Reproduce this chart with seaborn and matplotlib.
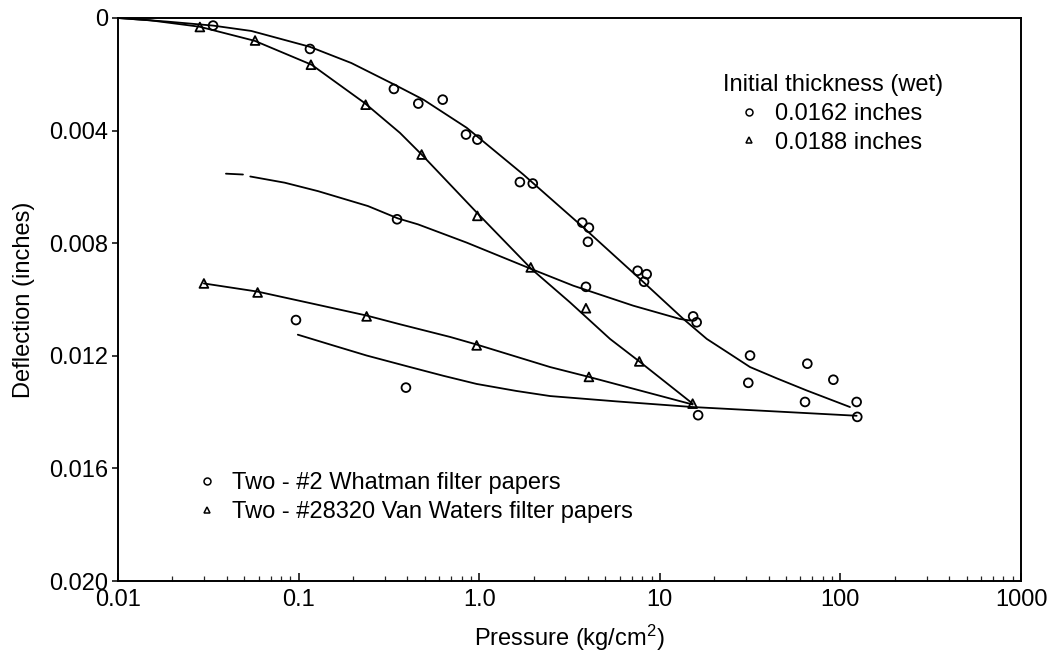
import matplotlib
matplotlib.use("Agg")
import matplotlib.pyplot as plt
from matplotlib.lines import Line2D
from matplotlib.ticker import FixedLocator, LogLocator, NullFormatter
import pandas as pd
import seaborn as sns

# Measured points (pressure kg/cm^2, deflection inches)
circ_a_p = [0.0336, 0.1156, 0.337, 0.460, 0.628, 0.845, 0.977, 1.68, 1.98,
            3.72, 4.05, 4.0, 7.54, 8.46, 8.18, 15.3, 16.0, 31.6, 30.9,
            65.6, 91.4, 63.7, 123]
circ_a_d = [0.00027, 0.0011, 0.00252, 0.00304, 0.0029, 0.00414, 0.00432,
            0.00583, 0.00588, 0.00727, 0.00745, 0.00795, 0.00898, 0.0091,
            0.00937, 0.0106, 0.01081, 0.01199, 0.01296, 0.01228, 0.01285,
            0.01364, 0.01364]

tri_b_p = [0.0284, 0.0574, 0.117, 0.235, 0.480, 0.977, 1.93, 3.90, 7.70, 15.2]
tri_b_d = [0.00032, 0.0008, 0.00166, 0.00308, 0.00485, 0.00703, 0.00886,
           0.01031, 0.0122, 0.0137]

circ_c_p = [0.351, 3.90]
circ_c_d = [0.00715, 0.00955]

tri_d_p = [0.0299, 0.0593, 0.238, 0.968, 4.05]
tri_d_d = [0.00943, 0.00975, 0.0106, 0.01163, 0.01275]

circ_e_p = [0.0967, 0.393, 16.3, 124]
circ_e_d = [0.01073, 0.01313, 0.01411, 0.01417]

# Fitted curves
curve_a_p = [0.01, 0.0189, 0.0336, 0.0547, 0.115, 0.196, 0.340, 0.491, 0.853,
             1.755, 3.61, 7.77, 13.5, 18.2, 24.0, 31.6, 44.4, 65, 113]
curve_a_d = [0.0, 0.00013, 0.00027, 0.00046, 0.00102, 0.0016, 0.00237, 0.0029,
             0.0039, 0.00556, 0.00733, 0.00927, 0.01069, 0.0114, 0.0119,
             0.0124, 0.0128, 0.01323, 0.01382]

curve_b_p = [0.01, 0.015, 0.0283, 0.0571, 0.118, 0.232, 0.364, 0.48, 0.989,
             1.95, 3.18, 5.30, 7.7, 15.2]
curve_b_d = [0.0, 0.00008, 0.00031, 0.00081, 0.00166, 0.00302, 0.00408,
             0.00485, 0.00697, 0.00892, 0.0101, 0.0114, 0.0122, 0.0137]

# extrapolated (dashed) start of the middle curve, then the solid part
curve_c_ext_p = [0.0396, 0.0492]
curve_c_ext_d = [0.00553, 0.00556]
curve_c_p = [0.054, 0.0837, 0.128, 0.242, 0.355, 0.458, 0.853, 1.95, 3.32,
             7.13, 12.9, 14.8]
curve_c_d = [0.00563, 0.00585, 0.00615, 0.00668, 0.00712, 0.00733, 0.00798,
             0.00892, 0.00951, 0.01022, 0.01069, 0.01075]

curve_d_p = [0.0299, 0.0593, 0.12, 0.238, 0.364, 0.69, 0.968, 2.47, 4.05, 15.2]
curve_d_d = [0.00943, 0.00972, 0.01015, 0.01057, 0.01088, 0.01133, 0.0116,
             0.0124, 0.01275, 0.01373]

curve_e_p = [0.099, 0.155, 0.238, 0.414, 0.633, 0.968, 1.61, 2.47, 5.77,
             15.2, 123]
curve_e_d = [0.01125, 0.01163, 0.01199, 0.0124, 0.01271, 0.013, 0.01325,
             0.01343, 0.01362, 0.01382, 0.01413]

y_ticks = [0.0, 0.004, 0.008, 0.012, 0.016, 0.020]
y_tick_labels = ["0", "0.004", "0.008", "0.012", "0.016", "0.020"]
x_ticks = [0.01, 0.1, 1.0, 10, 100, 1000]
x_tick_labels = ["0.01", "0.1", "1.0", "10", "100", "1000"]

FS = 17

sns.set_theme(style="white")
plt.rcParams["font.family"] = ["Liberation Sans", "DejaVu Sans"]
plt.rcParams["mathtext.default"] = "regular"
plt.rcParams["text.color"] = "black"
plt.rcParams["axes.labelcolor"] = "black"
plt.rcParams["legend.labelcolor"] = "black"

fig = plt.figure(figsize=(10.53, 6.51), dpi=100)
ax = fig.add_axes([118 / 1053, 1 - 581 / 651, 903 / 1053, 563 / 651])

line_kw = dict(color="black", linewidth=1.3, sort=False, estimator=None)
for cp, cd in [(curve_a_p, curve_a_d), (curve_b_p, curve_b_d),
               (curve_c_ext_p, curve_c_ext_d), (curve_c_p, curve_c_d),
               (curve_d_p, curve_d_d), (curve_e_p, curve_e_d)]:
    sns.lineplot(data=pd.DataFrame({"p": cp, "d": cd}), x="p", y="d",
                 ax=ax, **line_kw)

pt_kw = dict(s=40, facecolor="none", edgecolor="black", linewidth=1.3,
             zorder=3)
for pp, dd in [(circ_a_p, circ_a_d), (circ_c_p, circ_c_d), (circ_e_p, circ_e_d)]:
    sns.scatterplot(x=pp, y=dd, marker="o", ax=ax, **pt_kw)
for pp, dd in [(tri_b_p, tri_b_d), (tri_d_p, tri_d_d)]:
    sns.scatterplot(x=pp, y=dd, marker="^", ax=ax, **pt_kw)

ax.set_xscale("log")
ax.set_xlim(0.01, 1000)
ax.set_ylim(0.020, 0.0)

ax.xaxis.set_major_locator(FixedLocator(x_ticks))
ax.set_xticks(x_ticks, x_tick_labels)
ax.xaxis.set_minor_locator(LogLocator(base=10, subs=range(2, 10)))
ax.xaxis.set_minor_formatter(NullFormatter())
ax.set_yticks(y_ticks, y_tick_labels)

ax.tick_params(axis="x", which="major", direction="in", length=6, width=1.1,
               labelsize=FS, pad=6, bottom=True, colors="black")
ax.tick_params(axis="x", which="minor", direction="in", length=3.5, width=0.9,
               bottom=True)
ax.tick_params(axis="y", which="major", direction="out", length=4, width=1.1,
               labelsize=FS, pad=3, left=True, colors="black")
for sp in ax.spines.values():
    sp.set_visible(True)
    sp.set_color("black")
    sp.set_linewidth(1.4)

ax.set_xlabel("Pressure (kg/cm$^2$)", fontsize=FS, labelpad=8)
ax.set_ylabel("Deflection (inches)", fontsize=FS, labelpad=10)

mk = dict(color="black", linestyle="none", markerfacecolor="none",
          markersize=5, markeredgewidth=1.1)
h_circ = Line2D([], [], marker="o", **mk)
h_tri = Line2D([], [], marker="^", **mk)

leg1 = ax.legend([h_circ, h_tri], ["0.0162 inches", "0.0188 inches"],
                 title="Initial thickness (wet)", title_fontsize=FS,
                 fontsize=FS, frameon=False, loc="upper left",
                 bbox_to_anchor=(0.670, 0.900), alignment="left",
                 handlelength=2.2, handletextpad=0.0, labelspacing=0.28,
                 borderpad=0, borderaxespad=0)
ax.add_artist(leg1)

ax.legend([h_circ, h_tri],
          ["Two - #2 Whatman filter papers",
           "Two - #28320 Van Waters filter papers"],
          fontsize=FS, frameon=False, loc="upper left",
          bbox_to_anchor=(0.083, 0.193), handlelength=1.15,
          handletextpad=0.5, labelspacing=0.28, borderpad=0, borderaxespad=0)

fig.savefig("out.png", dpi=100)
